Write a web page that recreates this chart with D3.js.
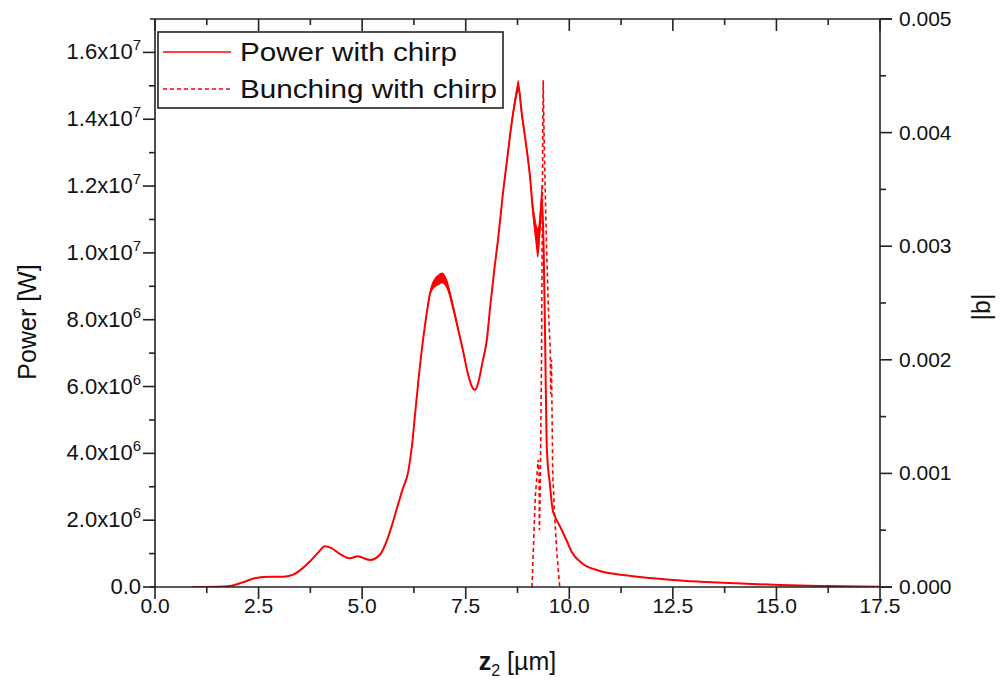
<!DOCTYPE html>
<html>
<head>
<meta charset="utf-8">
<script src="https://cdn.jsdelivr.net/npm/d3@7"></script>
<style>
  body { margin: 0; background: #fff; }
  svg { display: block; font-family: "Liberation Sans", Arial, sans-serif; }
</style>
</head>
<body>
<svg id="chart" width="1008" height="688"></svg>
<script>
// ---- data ----
const zPower = [0.9, 1.5, 1.8, 2.1, 2.4, 2.6, 3.1, 3.35, 3.55, 3.75, 3.95, 4.1, 4.25, 4.45, 4.7, 4.9, 5.0, 5.2, 5.35, 5.45, 5.6, 5.72, 5.85, 5.97, 6.12, 6.2, 6.28, 6.36, 6.47, 6.56, 6.64, 6.75, 6.85, 6.93, 7.05, 7.19, 7.32, 7.43, 7.55, 7.65, 7.72, 7.8, 7.9, 8.01, 8.1, 8.2, 8.28, 8.4, 8.5, 8.6, 8.7, 8.77, 8.85, 8.95, 9.05, 9.12, 9.18, 9.24, 9.29, 9.34, 9.38, 9.41, 9.46, 9.53, 9.6, 9.66, 9.8, 9.95, 10.06, 10.3, 10.74, 11.3, 11.95, 12.5, 13.15, 14.0, 15.1, 16.2, 17.5];
const power = [0.0, 0.01, 0.03, 0.13, 0.26, 0.30, 0.31, 0.38, 0.55, 0.78, 1.05, 1.22, 1.17, 1.0, 0.86, 0.92, 0.88, 0.81, 0.88, 1.0, 1.4, 1.85, 2.4, 2.9, 3.5, 4.2, 5.2, 6.2, 7.4, 8.2, 8.8, 9.1, 9.2, 9.25, 9.05, 8.4, 7.7, 7.1, 6.4, 6.0, 5.9, 6.1, 6.7, 7.4, 8.5, 9.6, 10.4, 11.8, 12.8, 13.8, 14.6, 15.0, 14.2, 13.3, 12.3, 11.3, 10.7, 10.3, 10.8, 11.6, 10.2, 8.0, 4.1, 3.1, 2.3, 2.1, 1.75, 1.35, 1.05, 0.72, 0.48, 0.36, 0.27, 0.21, 0.16, 0.11, 0.06, 0.03, 0.01];
// half-width of the fast oscillation band around the power curve (×1e6 W)
const powerSpread = [0, 0, 0, 0, 0, 0, 0, 0, 0, 0, 0, 0, 0, 0, 0, 0, 0, 0, 0, 0, 0, 0, 0, 0, 0, 0, 0, 0.03, 0.06, 0.08, 0.1, 0.14, 0.16, 0.16, 0.15, 0.12, 0.09, 0.06, 0.04, 0.02, 0, 0, 0, 0.02, 0.04, 0.06, 0.08, 0.1, 0.12, 0.14, 0.16, 0.18, 0.16, 0.14, 0.16, 0.25, 0.35, 0.45, 0.5, 0.45, 0.35, 0.2, 0.05, 0, 0, 0, 0, 0, 0, 0, 0, 0, 0, 0, 0, 0, 0, 0, 0];
const zBunch = [9.10, 9.18, 9.25, 9.27, 9.28, 9.30, 9.33, 9.36, 9.37, 9.40, 9.45, 9.50, 9.52, 9.54, 9.55, 9.57, 9.60, 9.65, 9.70, 9.77];
const bunch = [0.0, 0.0008, 0.00112, 0.0010, 0.0005, 0.0009, 0.0020, 0.0040, 0.00446, 0.0038, 0.0030, 0.0024, 0.00225, 0.0021, 0.0017, 0.0020, 0.0010, 0.0006, 0.0003, 0.0];
const xTicks = [0, 2.5, 5, 7.5, 10, 12.5, 15, 17.5];
const yLeftTicks = [0, 2, 4, 6, 8, 10, 12, 14, 16];          // ×1e6 W
const yRightTicks = [0, 0.001, 0.002, 0.003, 0.004, 0.005];
const legendLabels = ["Power with chirp", "Bunching with chirp"];

// ---- layout ----
const svg = d3.select("#chart");
const X0 = 155, X1 = 880, Y0 = 587, Y1 = 19;
const x = d3.scaleLinear().domain([0, 17.5]).range([X0, X1]);
const yL = d3.scaleLinear().domain([0, 17]).range([Y0, Y1]);
const yR = d3.scaleLinear().domain([0, 0.005]).range([Y0, Y1]);
const ink = "#222";
const red = "#ff0000";

svg.append("defs").append("clipPath").attr("id", "clip")
  .append("rect").attr("x", X0).attr("y", Y1).attr("width", X1 - X0).attr("height", Y0 - Y1);

const pts = zPower.map((z, i) => ({ z, p: power[i], s: powerSpread[i] }));
const g = svg.append("g").attr("clip-path", "url(#clip)");

g.append("path").datum(pts)
  .attr("fill", red)
  .attr("d", d3.area().x(d => x(d.z)).y0(d => yL(d.p - d.s)).y1(d => yL(d.p + d.s)).curve(d3.curveMonotoneX));
g.append("path").datum(pts)
  .attr("fill", "none").attr("stroke", red).attr("stroke-width", 2)
  .attr("d", d3.line().x(d => x(d.z)).y(d => yL(d.p)).curve(d3.curveMonotoneX));

const bpts = zBunch.map((z, i) => ({ z, b: bunch[i] }));
g.append("path").datum(bpts)
  .attr("fill", "none").attr("stroke", red).attr("stroke-width", 1.6)
  .attr("stroke-dasharray", "4,3")
  .attr("d", d3.line().x(d => x(d.z)).y(d => yR(d.b)));

// ---- axes ----
const axes = svg.append("g").attr("stroke", ink).attr("stroke-width", 1.6).attr("fill", "none");
axes.append("line").attr("x1", X0).attr("x2", X0).attr("y1", Y1).attr("y2", Y0);
axes.append("line").attr("x1", X1).attr("x2", X1).attr("y1", Y1).attr("y2", Y0);
axes.append("line").attr("x1", X0 - 5).attr("x2", X1 + 12).attr("y1", Y1).attr("y2", Y1);
axes.append("line").attr("x1", X0 - 5).attr("x2", X1 + 12).attr("y1", Y0).attr("y2", Y0);

const xMinor = d3.range(0, 17.5 + 0.01, 1.25);
xMinor.forEach(v => {
  const major = Math.abs(v / 2.5 - Math.round(v / 2.5)) < 1e-6;
  axes.append("line").attr("x1", x(v)).attr("x2", x(v)).attr("y1", Y0).attr("y2", Y0 + (major ? 12 : 6));
  axes.append("line").attr("x1", x(v)).attr("x2", x(v)).attr("y1", Y1).attr("y2", Y1 + (major ? 12 : 6));
});
d3.range(0, 17, 1).forEach(v => {
  const major = v % 2 === 0;
  axes.append("line").attr("x1", X0).attr("x2", X0 - (major ? 12 : 6)).attr("y1", yL(v)).attr("y2", yL(v));
});
d3.range(0, 0.00501, 0.0005).forEach((v, i) => {
  const major = i % 2 === 0;
  axes.append("line").attr("x1", X1).attr("x2", X1 + (major ? 12 : 6)).attr("y1", yR(v)).attr("y2", yR(v));
});

// tick labels
const txt = svg.append("g").attr("fill", "#111").attr("font-size", 21);
xTicks.forEach(v => {
  txt.append("text").attr("x", x(v)).attr("y", Y0 + 26).attr("text-anchor", "middle").text(d3.format(".1f")(v));
});
yLeftTicks.forEach(v => {
  const t = txt.append("text").attr("x", 141).attr("y", yL(v) + 7).attr("text-anchor", "end").attr("font-size", 22);
  if (v === 0) { t.text("0.0"); return; }
  const exp = v >= 10 ? 7 : 6;
  const mant = v / Math.pow(10, exp - 6);
  t.append("tspan").text(d3.format(".1f")(mant) + "x10");
  t.append("tspan").attr("dy", -9).attr("font-size", 15).text(exp);
});
yRightTicks.forEach(v => {
  txt.append("text").attr("x", 899).attr("y", yR(v) + 7).attr("text-anchor", "start").text(d3.format(".3f")(v));
});

// axis titles
svg.append("text").attr("transform", `translate(36,${(Y0 + Y1) / 2 + 19}) rotate(-90)`)
  .attr("text-anchor", "middle").attr("font-size", 25).attr("fill", "#111").text("Power [W]");
svg.append("text").attr("transform", `translate(990,${(Y0 + Y1) / 2 + 4}) rotate(-90)`)
  .attr("text-anchor", "middle").attr("font-size", 25).attr("fill", "#111").text("|b|");
const xt = svg.append("text").attr("x", x(8.75)).attr("y", 670).attr("text-anchor", "middle")
  .attr("font-size", 25).attr("fill", "#111");
xt.append("tspan").attr("font-weight", "bold").text("z");
xt.append("tspan").attr("font-size", 16).attr("dy", 6).text("2");
xt.append("tspan").attr("dy", -6).text(" [µm]");

// legend
const lg = svg.append("g");
lg.append("rect").attr("x", 158).attr("y", 32).attr("width", 345).attr("height", 76)
  .attr("fill", "#fff").attr("stroke", ink).attr("stroke-width", 1.6);
const legendStyles = [null, "4,3"];
const legendWidths = [217, 257];
legendLabels.forEach((lab, i) => {
  const cy = 52 + i * 37;
  lg.append("line").attr("x1", 163).attr("x2", 231).attr("y1", cy).attr("y2", cy)
    .attr("stroke", red).attr("stroke-width", 1.6).attr("stroke-dasharray", legendStyles[i]);
  lg.append("text").attr("x", 240).attr("y", cy + 9).attr("font-size", 25).attr("fill", "#111")
    .attr("textLength", legendWidths[i]).attr("lengthAdjust", "spacingAndGlyphs").text(lab);
});
</script>
</body>
</html>
